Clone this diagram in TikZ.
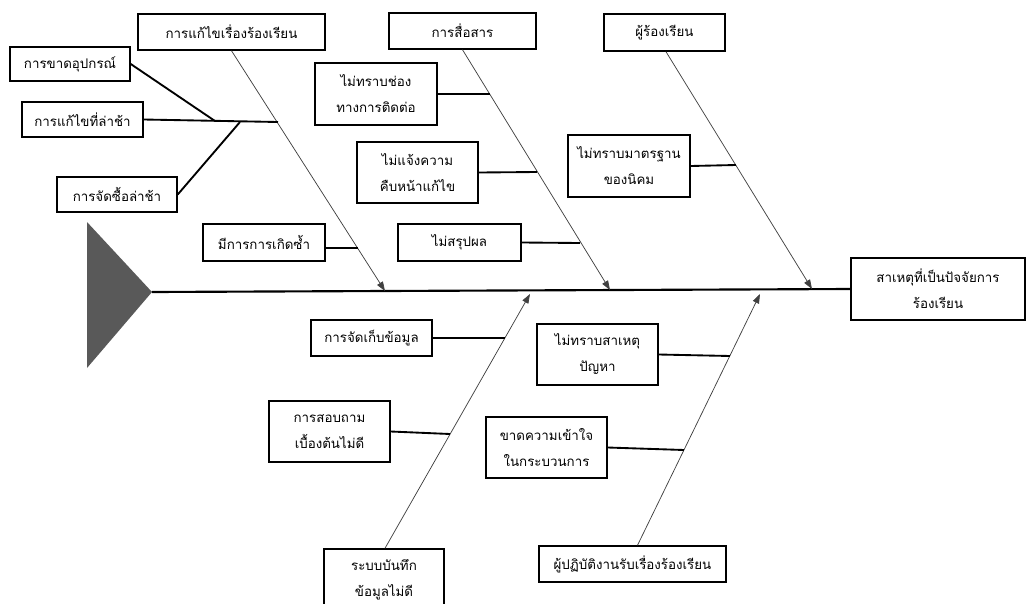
\documentclass[tikz,border=0pt]{standalone}
\usepackage{fontspec}
\newfontfamily\thaifont[Script=Thai]{Loma}
\usetikzlibrary{arrows.meta}
\tikzset{
  box/.style={draw=black, line width=1.1pt, fill=white, inner sep=0pt,
    align=center, font=\thaifont\fontsize{10}{19.5}\selectfont},
  bone/.style={draw=black!75, line width=0.55pt,
    -{Triangle[length=7pt,width=5pt]}},
  twig/.style={draw=black, line width=1.4pt},
  spine/.style={draw=black, line width=1.6pt}
}
\begin{document}
\begin{tikzpicture}[x=0.75pt, y=-0.75pt]
\useasboundingbox (0,0) rectangle (1026,604);

% head of the fish
\fill[black!65] (87,222) -- (152,292) -- (87,368) -- cycle;

% effect box
\node[box, minimum width=174*0.75pt, minimum height=62*0.75pt] (E) at (938,289) {สาเหตุที่เป็นปัจจัยการ\\ร้องเรียน};

% spine
\coordinate (head) at (152,292);
\draw[spine] (head) -- (E.west);

% arrow tips on the spine
\coordinate (aT) at (385,291);
\coordinate (bT) at (610,290);
\coordinate (cT) at (812,289);
\coordinate (dT) at (530,294);
\coordinate (fT) at (760,294);

% category boxes
\node[box, minimum width=187*0.75pt, minimum height=36*0.75pt] (A) at (231.5,32) {การแก้ไขเรื่องร้องเรียน};
\node[box, minimum width=147*0.75pt, minimum height=36*0.75pt] (B) at (462.5,31) {การสื่อสาร};
\node[box, minimum width=121*0.75pt, minimum height=37*0.75pt] (C) at (664.5,32.5) {ผู้ร้องเรียน};
\node[box, minimum width=120*0.75pt, minimum height=61*0.75pt] (D) at (384,579.5) {ระบบบันทึก\\ข้อมูลไม่ดี};
\node[box, minimum width=187*0.75pt, minimum height=36*0.75pt] (F) at (632.5,564) {ผู้ปฏิบัติงานรับเรื่องร้องเรียน};

% cause boxes
\node[box, minimum width=120*0.75pt, minimum height=34*0.75pt] (A1) at (70,64) {การขาดอุปกรณ์};
\node[box, minimum width=121*0.75pt, minimum height=35*0.75pt] (A2) at (82.5,119.5) {การแก้ไขที่ล่าช้า};
\node[box, minimum width=120*0.75pt, minimum height=35*0.75pt] (A3) at (117,194.5) {การจัดซื้อล่าช้า};
\node[box, minimum width=122*0.75pt, minimum height=37*0.75pt] (A4) at (264,242.5) {มีการการเกิดซ้ำ};
\node[box, minimum width=122*0.75pt, minimum height=62*0.75pt] (B1) at (376,94) {ไม่ทราบช่อง\\ทางการติดต่อ};
\node[box, minimum width=121*0.75pt, minimum height=61*0.75pt] (B2) at (417.5,172.5) {ไม่แจ้งความ\\คืบหน้าแก้ไข};
\node[box, minimum width=123*0.75pt, minimum height=37*0.75pt] (B3) at (459.5,242.5) {ไม่สรุปผล};
\node[box, minimum width=122*0.75pt, minimum height=62*0.75pt] (C1) at (629,166) {ไม่ทราบมาตรฐาน\\ของนิคม};
\node[box, minimum width=121*0.75pt, minimum height=36*0.75pt] (D1) at (371.5,338) {การจัดเก็บข้อมูล};
\node[box, minimum width=121*0.75pt, minimum height=61*0.75pt] (D2) at (329.5,431.5) {การสอบถาม\\เบื้องต้นไม่ดี};
\node[box, minimum width=121*0.75pt, minimum height=61*0.75pt] (F1) at (597.5,354.5) {ไม่ทราบสาเหตุ\\ปัญหา};
\node[box, minimum width=121*0.75pt, minimum height=61*0.75pt] (F2) at (546.5,447.5) {ขาดความเข้าใจ\\ในกระบวนการ};

% bones
\draw[bone] (A.south) -- (aT);
\draw[bone] (B.south) -- (bT);
\draw[bone] ([xshift=1.5*0.75pt]C.south) -- (cT);
\draw[bone] ([xshift=1*0.75pt]D.north) -- (dT);
\draw[bone] ([xshift=5*0.75pt]F.north) -- (fT);

% joints on the bones
\coordinate (a2j) at (278,122);
\coordinate (a4j) at (358,248);
\coordinate (b1j) at (490,94);
\coordinate (b2j) at (537,172);
\coordinate (b3j) at (580,243);
\coordinate (c1j) at (736,165);
\coordinate (d1j) at (505,338);
\coordinate (d2j) at (450,434);
\coordinate (f1j) at (730,356);
\coordinate (f2j) at (684,450);
% joints on the small branch
\coordinate (a1j) at (215,121);
\coordinate (a3j) at (240,122);

% twigs
\draw[twig] (A2.east) -- (a2j);
\draw[twig] (A1.east) -- (a1j);
\draw[twig] (A3.east) -- (a3j);
\draw[twig] (A4.east |- a4j) -- (a4j);
\draw[twig] (B1.east) -- (b1j);
\draw[twig] (B2.east) -- (b2j);
\draw[twig] (B3.east) -- (b3j);
\draw[twig] (C1.east) -- (c1j);
\draw[twig] (D1.east) -- (d1j);
\draw[twig] (D2.east) -- (d2j);
\draw[twig] (F1.east) -- (f1j);
\draw[twig] (F2.east) -- (f2j);
\end{tikzpicture}
\end{document}
